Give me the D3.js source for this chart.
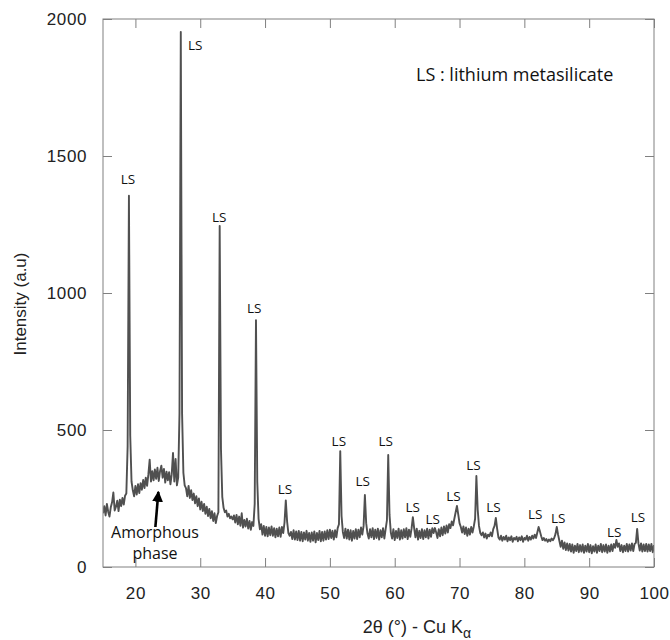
<!DOCTYPE html>
<html>
<head>
<meta charset="utf-8">
<script src="https://cdn.jsdelivr.net/npm/d3@7"></script>
<style>
    body { margin: 0; background: #fff; }
    svg { display: block; }
</style>
</head>
<body>
<div id="chart"></div>
<script>
// XRD scan, 2theta from 15 to 100 deg in 0.2 deg steps
const twoThetaStart = 15;
const twoThetaStep = 0.2;
const intensity = [
    196, 222, 188, 230, 202, 184, 218, 236, 272, 206,   // 15
    220, 242, 204, 246, 222, 252, 228, 260, 268, 440,   // 17
    1355, 480, 312, 280, 258, 296, 264, 302, 270, 306,  // 19
    282, 318, 288, 326, 296, 338, 392, 312, 350, 316,   // 21
    356, 322, 362, 314, 350, 370, 326, 358, 308, 348,   // 23
    316, 346, 302, 338, 416, 312, 394, 298, 326, 560,   // 25
    1953, 560, 344, 298, 288, 258, 296, 252, 280, 244,  // 27
    268, 232, 258, 222, 250, 210, 238, 204, 230, 194,   // 29
    220, 186, 212, 178, 204, 168, 196, 160, 186, 200,   // 31
    1245, 430, 256, 216, 200, 206, 184, 194, 178, 184,  // 33
    174, 188, 162, 190, 156, 184, 150, 196, 144, 172,   // 35
    148, 176, 140, 168, 136, 164, 150, 230, 901, 310,   // 37
    176, 138, 156, 118, 150, 114, 146, 112, 144, 116,   // 39
    148, 114, 142, 108, 140, 112, 144, 110, 146, 124,   // 41
    162, 243, 166, 124, 114, 128, 102, 134, 100, 130,   // 43
    98, 132, 96, 128, 94, 126, 100, 132, 96, 124,       // 45
    92, 126, 96, 130, 90, 124, 98, 132, 94, 128,        // 47
    96, 130, 100, 134, 102, 136, 106, 132, 100, 134,    // 49
    108, 142, 156, 423, 186, 128, 106, 140, 104, 136,   // 51
    100, 134, 96, 132, 104, 138, 102, 136, 108, 144,    // 53
    118, 150, 263, 160, 122, 104, 138, 108, 142, 102,   // 55
    136, 106, 140, 100, 134, 108, 142, 104, 138, 170,   // 57
    409, 190, 126, 104, 138, 98, 132, 106, 140, 100,    // 59
    134, 104, 138, 108, 142, 102, 136, 110, 140, 182,   // 61
    142, 108, 140, 100, 132, 106, 138, 102, 134, 108,   // 63
    140, 104, 136, 110, 142, 124, 142, 126, 106, 138,   // 65
    112, 144, 116, 148, 122, 152, 126, 156, 142, 166,   // 67
    152, 176, 200, 223, 192, 160, 146, 126, 148, 120,   // 69
    144, 114, 140, 118, 146, 126, 148, 176, 332, 210,   // 71
    150, 124, 116, 126, 108, 122, 104, 118, 112, 126,   // 73
    112, 138, 150, 179, 140, 108, 100, 114, 96, 110,    // 75
    100, 114, 94, 108, 98, 112, 92, 106, 100, 110,      // 77
    94, 108, 98, 112, 92, 106, 100, 114, 96, 110,       // 79
    100, 114, 104, 118, 106, 126, 146, 130, 112, 98,    // 81
    106, 96, 102, 92, 100, 94, 104, 98, 106, 120,       // 83
    146, 118, 96, 74, 96, 66, 90, 62, 86, 60,           // 85
    84, 56, 82, 52, 78, 58, 84, 54, 80, 56,             // 87
    82, 52, 78, 56, 84, 54, 80, 50, 76, 56,             // 89
    82, 52, 78, 58, 84, 54, 80, 56, 82, 52,             // 91
    78, 56, 82, 58, 84, 70, 99, 74, 86, 58,             // 93
    80, 54, 78, 58, 84, 56, 82, 60, 86, 58,             // 95
    84, 88, 139, 86, 60, 86, 56, 82, 58, 84,            // 97
    56, 82, 58, 84, 54, 80                              // 99
];

// "LS" peak labels, [2theta, intensity] where the label sits
const lsLabels = [
    [18.85, 1416], [29.23, 1905], [32.92, 1277], [38.31, 945],
    [43.08, 285], [51.38, 460], [55.08, 314], [58.62, 460],
    [62.77, 219], [65.85, 175], [69.08, 259], [72.15, 372],
    [75.23, 219], [81.69, 193], [85.23, 179], [93.85, 128],
    [97.54, 182]
];

// arrow for the amorphous hump: [tail, tip]
const amorphArrow = [[23.08, 146], [23.54, 274]];

const xTicks = [20, 30, 40, 50, 60, 70, 80, 90, 100];
const yTicks = [0, 500, 1000, 1500, 2000];

const W = 670, H = 640;
const margin = { left: 103, right: 16, top: 19, bottom: 73 };

function buildChart() {
    const svg = d3.select("#chart").append("svg")
        .attr("width", W)
        .attr("height", H);

    const x = d3.scaleLinear().domain([15, 100]).range([margin.left, W - margin.right]);
    const y = d3.scaleLinear().domain([0, 2000]).range([H - margin.bottom, margin.top]);

    svg.append("clipPath").attr("id", "plotClip")
        .append("rect")
        .attr("x", x(15)).attr("y", y(2000))
        .attr("width", x(100) - x(15)).attr("height", y(0) - y(2000));

    // trace
    const line = d3.line()
        .x((d, i) => x(twoThetaStart + i * twoThetaStep))
        .y(d => y(d));
    svg.append("path")
        .datum(intensity)
        .attr("clip-path", "url(#plotClip)")
        .attr("fill", "none")
        .attr("stroke", "#505050")
        .attr("stroke-width", 1.9)
        .attr("stroke-linejoin", "round")
        .attr("d", line);

    // axes, ticks pointing inwards
    const tickFont = (g) => {
        g.select(".domain").remove();
        g.selectAll(".tick line").attr("stroke", "#808080");
        g.selectAll(".tick text")
            .attr("fill", "#222")
            .style("font-family", "'Liberation Sans', Arial, sans-serif")
            .style("font-size", "17px")
            .style("letter-spacing", "0.6px");
    };
    svg.append("g")
        .attr("transform", `translate(0,${y(0)})`)
        .call(d3.axisBottom(x).tickValues(xTicks).tickSize(-9).tickPadding(20).tickFormat(d3.format("d")))
        .call(tickFont);
    svg.append("g")
        .attr("transform", `translate(0,${y(2000)})`)
        .call(d3.axisTop(x).tickValues(xTicks).tickSize(-9).tickFormat(""))
        .call(tickFont);
    svg.append("g")
        .attr("transform", `translate(${x(15)},0)`)
        .call(d3.axisLeft(y).tickValues(yTicks).tickSize(-9).tickPadding(16).tickFormat(d3.format("d")))
        .call(tickFont);
    svg.append("g")
        .attr("transform", `translate(${x(100)},0)`)
        .call(d3.axisRight(y).tickValues(yTicks).tickSize(-9).tickFormat(""))
        .call(tickFont);

    // frame
    svg.append("rect")
        .attr("x", x(15)).attr("y", y(2000))
        .attr("width", x(100) - x(15)).attr("height", y(0) - y(2000))
        .attr("fill", "none")
        .attr("stroke", "#808080")
        .attr("stroke-width", 1);

    // peak labels
    svg.append("g")
        .selectAll("text")
        .data(lsLabels)
        .join("text")
        .attr("x", d => x(d[0]))
        .attr("y", d => y(d[1]))
        .attr("dy", "0.36em")
        .attr("text-anchor", "middle")
        .attr("fill", "#111")
        .style("font-family", "'Open Sans', sans-serif")
        .style("font-size", "13.5px")
        .text("LS");

    // legend
    svg.append("text")
        .attr("x", 416).attr("y", 75)
        .attr("dy", "0.36em")
        .attr("fill", "#111")
        .style("font-family", "'Open Sans', sans-serif")
        .style("font-size", "18px")
        .text("LS : lithium metasilicate");

    // amorphous annotation
    svg.append("defs").append("marker")
        .attr("id", "arrowHead")
        .attr("viewBox", "0 0 10 10")
        .attr("refX", 9).attr("refY", 5)
        .attr("markerWidth", 4.2).attr("markerHeight", 4.6)
        .attr("markerUnits", "strokeWidth")
        .attr("orient", "auto")
        .append("path")
        .attr("d", "M0,0 L10,5 L0,10 Z")
        .attr("fill", "#000");
    svg.append("line")
        .attr("x1", x(amorphArrow[0][0])).attr("y1", y(amorphArrow[0][1]))
        .attr("x2", x(amorphArrow[1][0])).attr("y2", y(amorphArrow[1][1]))
        .attr("stroke", "#000")
        .attr("stroke-width", 2.6)
        .attr("marker-end", "url(#arrowHead)");
    const amorph = svg.append("text")
        .attr("text-anchor", "middle")
        .attr("fill", "#111")
        .style("font-family", "'Open Sans', sans-serif")
        .style("font-size", "16px");
    amorph.append("tspan").attr("x", 155).attr("y", 538).text("Amorphous");
    amorph.append("tspan").attr("x", 155).attr("y", 559).text("phase");

    // axis titles
    svg.append("text")
        .attr("transform", "translate(20,304) rotate(-90)")
        .attr("dy", "0.36em")
        .attr("text-anchor", "middle")
        .attr("fill", "#222")
        .style("font-family", "'Liberation Sans', Arial, sans-serif")
        .style("font-size", "17px")
        .text("Intensity (a.u)");
    const xt = svg.append("text")
        .attr("x", 417).attr("y", 633)
        .attr("text-anchor", "middle")
        .attr("fill", "#222")
        .style("font-family", "'Liberation Sans', Arial, sans-serif")
        .style("font-size", "18px");
    xt.append("tspan").text("2θ (°) - Cu K");
    xt.append("tspan")
        .attr("dy", 5)
        .style("font-size", "14px")
        .text("α");
}

buildChart();
</script>
</body>
</html>
